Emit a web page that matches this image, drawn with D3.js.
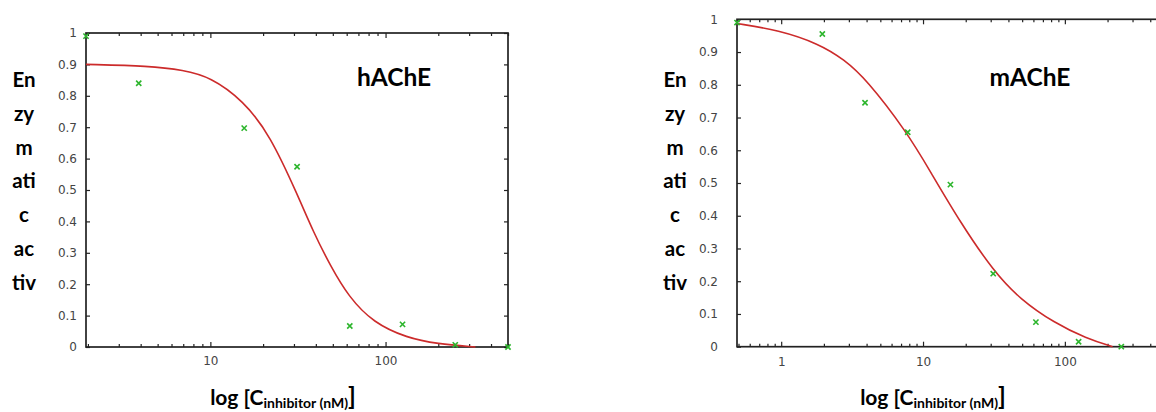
<!DOCTYPE html>
<html>
<head>
<meta charset="utf-8">
<script src="https://cdn.jsdelivr.net/npm/d3@7"></script>
<style>
  html, body { margin: 0; padding: 0; background: #fff; }
  svg { display: block; }
  .tick text { font-family: "DejaVu Sans", sans-serif; font-size: 12px; fill: #444; }
  .bold { font-family: Lato, "Open Sans", sans-serif; font-weight: bold; fill: #000; }
</style>
</head>
<body>
<div id="chart"></div>
<script>
// hAChE measured points
const hConc = [1.95, 3.9, 15.6, 31.25, 62.5, 125, 250, 500];
const hActivity = [0.99, 0.84, 0.697, 0.574, 0.067, 0.072, 0.007, 0.0];
// hAChE fitted curve
const hFitConc = [1.95, 4.5, 7, 10, 15.4, 21.9, 31.6, 38.8, 48.3, 61.5, 85.3, 132.5, 197, 326];
const hFitActivity = [0.9, 0.895, 0.882, 0.86, 0.785, 0.675, 0.482, 0.365, 0.26, 0.16, 0.077, 0.029, 0.01, 0.0];

// mAChE measured points
const mConc = [0.488, 1.95, 3.9, 7.8, 15.6, 31.25, 62.5, 125, 250];
const mActivity = [0.99, 0.955, 0.745, 0.655, 0.495, 0.223, 0.075, 0.015, 0.0];
// mAChE fitted curve
const mFitConc = [0.488, 0.96, 1.85, 2.78, 3.96, 7.71, 11.26, 18.4, 31.6, 48.7, 84, 142, 217];
const mFitActivity = [0.987, 0.967, 0.925, 0.877, 0.818, 0.655, 0.535, 0.378, 0.229, 0.144, 0.073, 0.025, 0.0];

// tick labels
const yTicks = [0, 0.1, 0.2, 0.3, 0.4, 0.5, 0.6, 0.7, 0.8, 0.9, 1];
const hXTicks = [10, 100];
const mXTicks = [1, 10, 100];
const yTitleLines = ["En", "zy", "m", "ati", "c", "ac", "tiv"];

const W = 1156, H = 412;

const svg = d3.select("#chart").append("svg")
  .attr("width", W)
  .attr("height", H);

function drawPanel(p) {
  const x = d3.scaleLog().domain(p.xDomain).range([p.left, p.right]);
  const y = d3.scaleLinear().domain([0, 1]).range([p.bottom, p.top]);
  const g = svg.append("g");

  // minor log ticks (everything that isn't a labelled decade)
  const minors = x.ticks().filter((d) => p.xTicks.indexOf(d) < 0);

  // bottom axis
  const xb = g.append("g").attr("transform", `translate(0,${p.bottom})`);
  xb.call(d3.axisBottom(x).tickValues(p.xTicks).tickSize(-5).tickPadding(p.xPad).tickFormat(d3.format("d")));
  xb.append("g").call(d3.axisBottom(x).tickValues(minors).tickSize(-3).tickFormat(""));

  // top axis
  const xt = g.append("g").attr("transform", `translate(0,${p.top})`);
  xt.call(d3.axisTop(x).tickValues(p.xTicks).tickSize(-5).tickFormat(""));
  xt.append("g").call(d3.axisTop(x).tickValues(minors).tickSize(-3).tickFormat(""));

  // left + right axes
  g.append("g").attr("transform", `translate(${p.left},0)`)
    .call(d3.axisLeft(y).tickValues(yTicks).tickSize(-4).tickPadding(p.yPad).tickFormat(d3.format("")));
  g.append("g").attr("transform", `translate(${p.right},0)`)
    .call(d3.axisRight(y).tickValues(yTicks).tickSize(-4).tickFormat(""));

  g.selectAll(".domain").remove();
  g.selectAll(".tick line").attr("stroke", "#222").attr("stroke-width", 1.2);

  // frame
  g.append("rect")
    .attr("x", p.left).attr("y", p.top)
    .attr("width", p.right - p.left).attr("height", p.bottom - p.top)
    .attr("fill", "none").attr("stroke", "#222").attr("stroke-width", 1.7);

  // fitted curve
  const line = d3.line()
    .x((d, i) => x(p.fitConc[i]))
    .y((d) => y(d))
    .curve(d3.curveBasis);
  g.append("path")
    .datum(p.fitAct)
    .attr("d", line)
    .attr("fill", "none")
    .attr("stroke", "#cc2b2b")
    .attr("stroke-width", 1.6);

  // data points as small x marks
  const s = 2.6;
  g.append("g").selectAll("path")
    .data(p.conc)
    .join("path")
    .attr("d", (d, i) => {
      const cx = x(d), cy = y(p.act[i]);
      return `M${cx - s},${cy - s}L${cx + s},${cy + s}M${cx - s},${cy + s}L${cx + s},${cy - s}`;
    })
    .attr("stroke", "#2cb52c")
    .attr("stroke-width", 1.6)
    .attr("fill", "none");

  // enzyme name
  g.append("text")
    .attr("class", "bold")
    .attr("x", p.nameX).attr("y", 86)
    .attr("text-anchor", "middle")
    .attr("font-size", 24.5)
    .text(p.name);

  // broken-up y title
  g.append("g").selectAll("text")
    .data(yTitleLines)
    .join("text")
    .attr("class", "bold")
    .attr("x", p.yTitleX)
    .attr("y", (d, i) => 87.3 + i * 33.7)
    .attr("text-anchor", "middle")
    .attr("font-size", 20.5)
    .text((d) => d);

  // x title
  const t = g.append("text")
    .attr("class", "bold")
    .attr("x", p.xTitleX).attr("y", 405)
    .attr("text-anchor", "middle")
    .attr("font-size", 21);
  t.append("tspan").text("log [C");
  t.append("tspan").attr("font-size", 14).attr("dy", 3).text("inhibitor (nM)");
  t.append("tspan").attr("font-size", 25).attr("dy", -3).text("]");
}

drawPanel({
  xDomain: [1.95, 500], left: 86, right: 508, top: 33, bottom: 347,
  xTicks: hXTicks, xPad: 9, yPad: 9,
  conc: hConc, act: hActivity, fitConc: hFitConc, fitAct: hFitActivity,
  name: "hAChE", nameX: 394, yTitleX: 24, xTitleX: 283,
});

drawPanel({
  xDomain: [0.488, 500], left: 737, right: 1164, top: 19.3, bottom: 346.7,
  xTicks: mXTicks, xPad: 11, yPad: 19,
  conc: mConc, act: mActivity, fitConc: mFitConc, fitAct: mFitActivity,
  name: "mAChE", nameX: 1030, yTitleX: 675, xTitleX: 933,
});
</script>
</body>
</html>
